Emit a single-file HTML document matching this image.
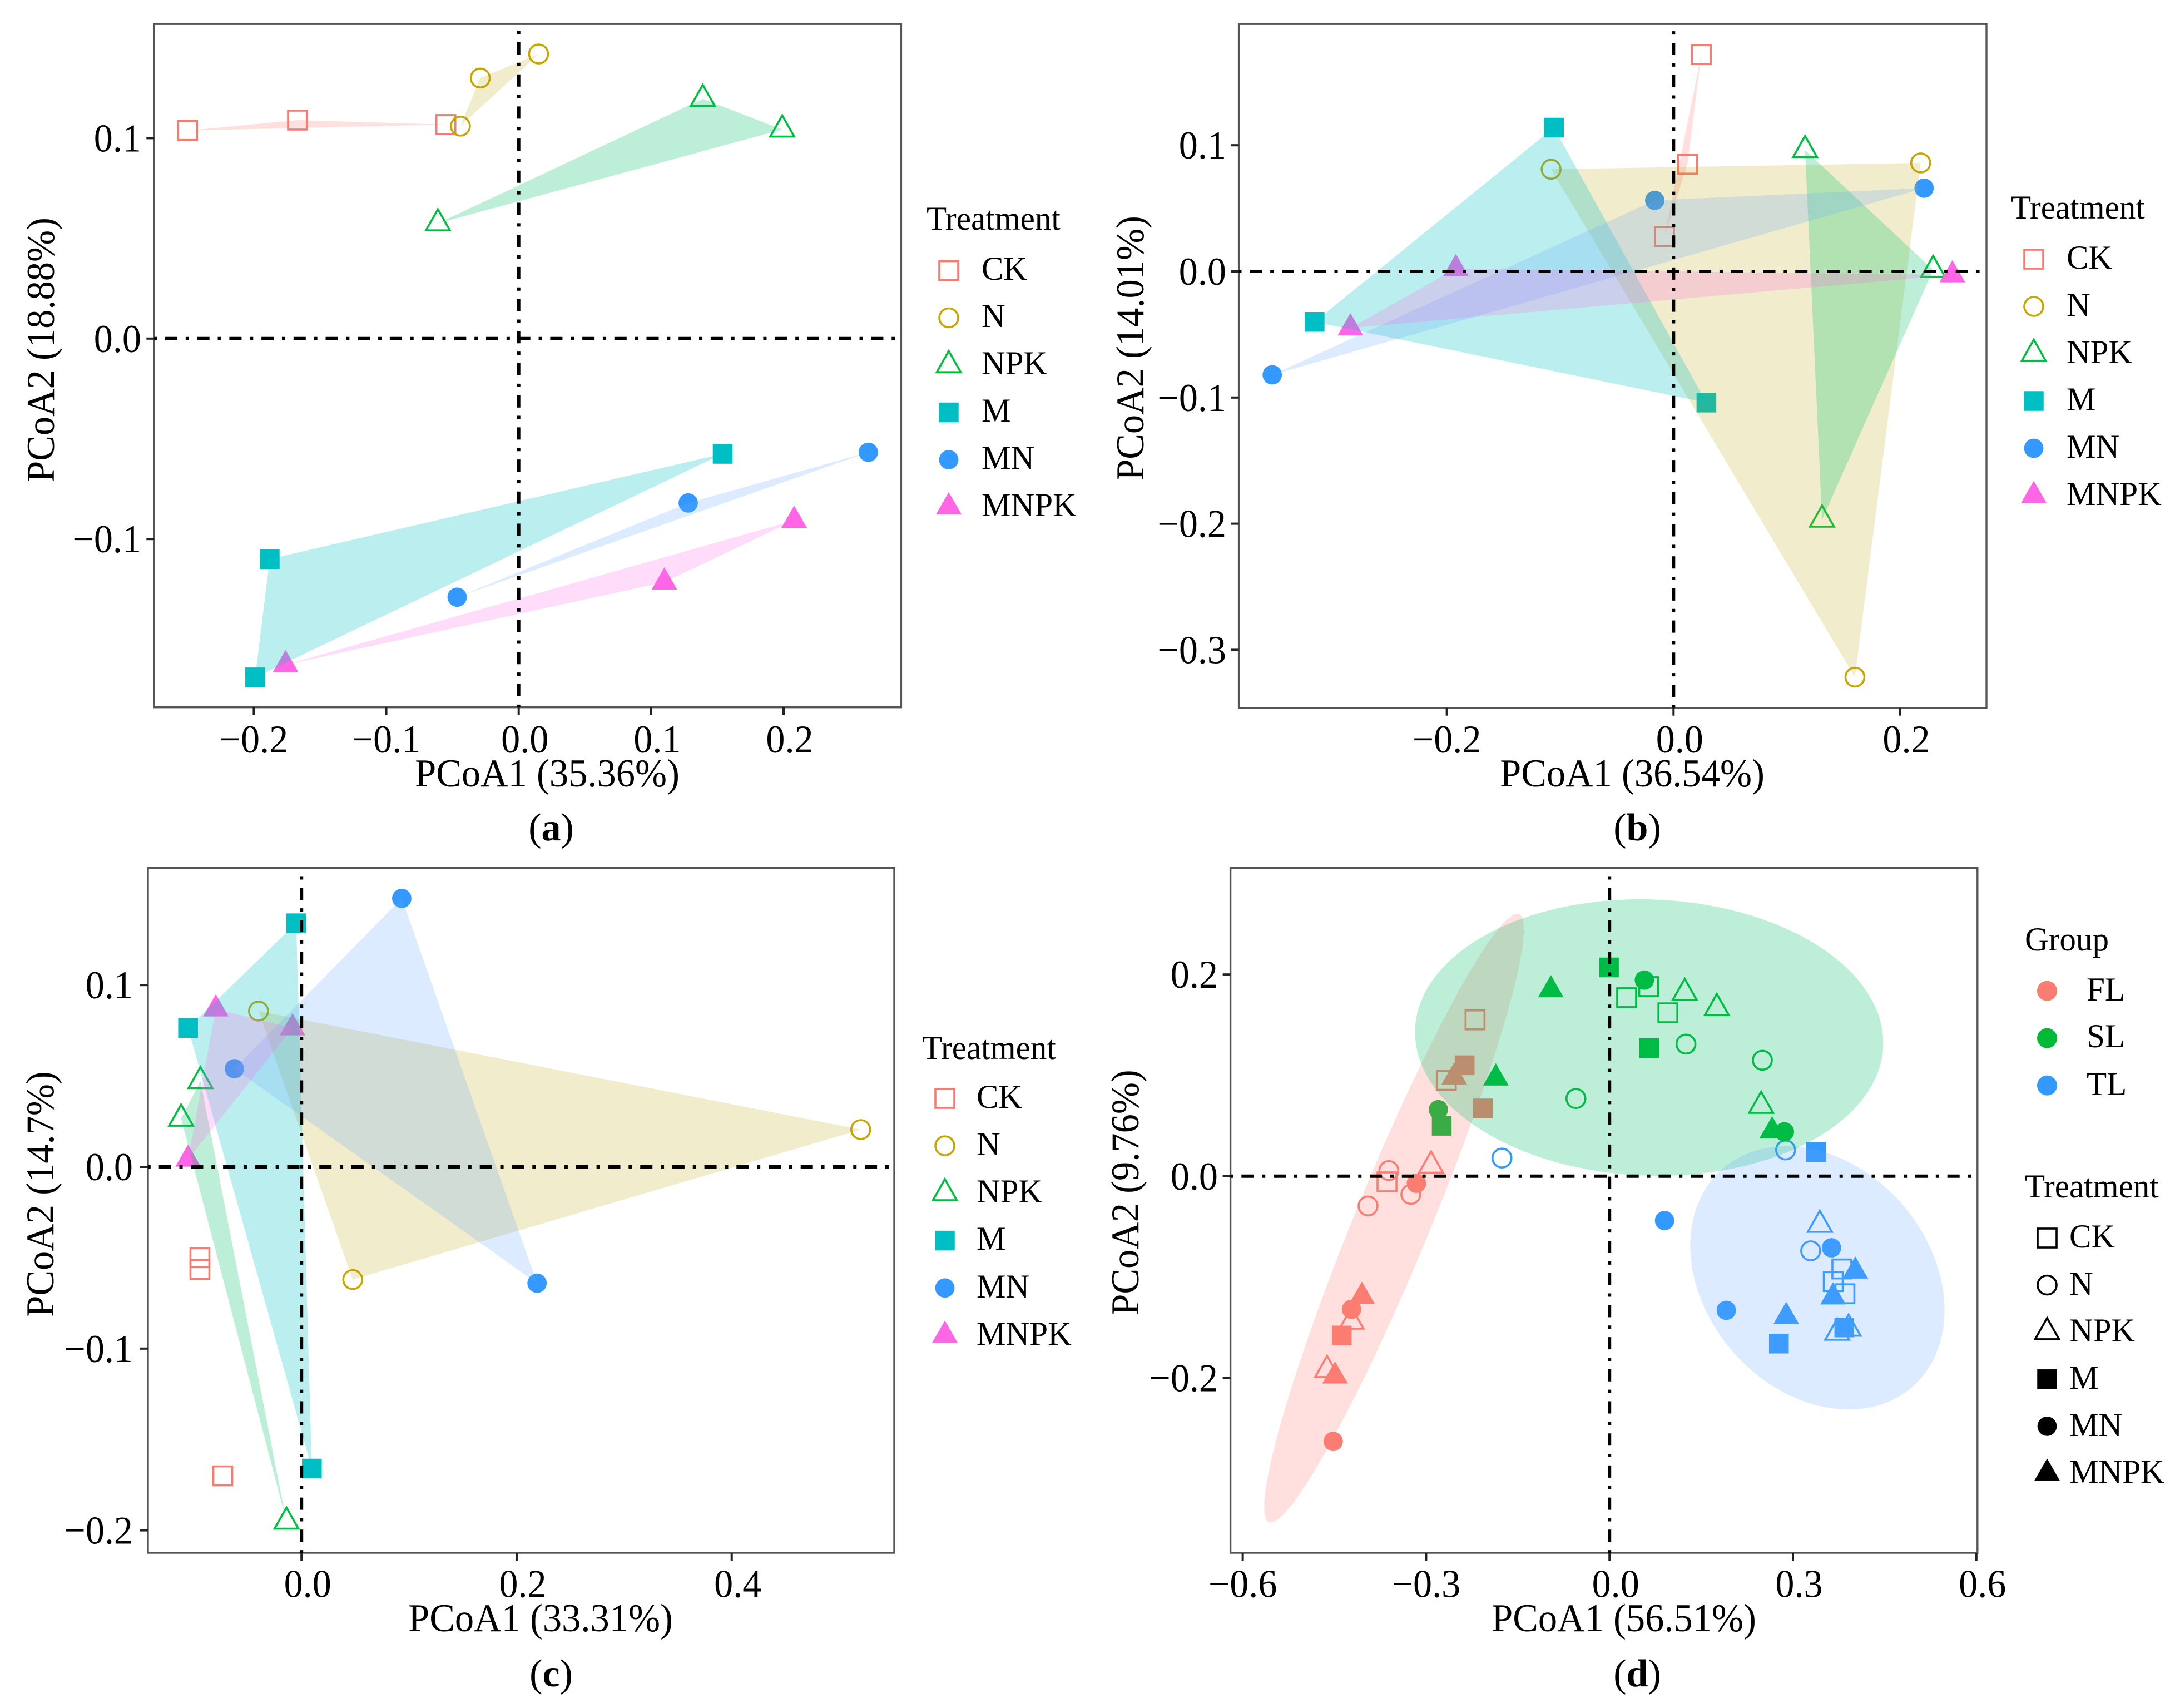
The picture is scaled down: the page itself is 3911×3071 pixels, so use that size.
<!DOCTYPE html>
<html lang="en">
<head>
<meta charset="utf-8">
<title>PCoA panels</title>
<style>
html,body{margin:0;padding:0;background:#fff}
svg{display:block}
text{font-family:"Liberation Serif",serif;fill:#000}
.ttl{font-size:71px}
.leg{font-size:60px}
.cap{font-size:70px}
.cap tspan{font-weight:bold}
</style>
</head>
<body>
<svg id="figure" xmlns="http://www.w3.org/2000/svg" width="3911" height="3071" viewBox="0 0 3911 3071">
<rect width="3911" height="3071" fill="#fff"/>

<g id="panel-a"></g>
<g>
<text class="ttl" x="984" y="1414" text-anchor="middle">PCoA1 (35.36%)</text>
<text class="ttl" transform="translate(97 629) rotate(-90)" text-anchor="middle">PCoA2 (18.88%)</text>
<text class="cap" x="991" y="1511" text-anchor="middle">(<tspan>a</tspan>)</text>
<text class="leg" x="1666" y="413">Treatment</text>
<text class="leg" x="1765" y="503">CK</text>
<text class="leg" x="1765" y="588">N</text>
<text class="leg" x="1765" y="673">NPK</text>
<text class="leg" x="1765" y="758">M</text>
<text class="leg" x="1765" y="843">MN</text>
<text class="leg" x="1765" y="928">MNPK</text>
</g>

<g id="panel-b"></g>
<g>
<text class="ttl" x="2935" y="1414" text-anchor="middle">PCoA1 (36.54%)</text>
<text class="ttl" transform="translate(2056 626) rotate(-90)" text-anchor="middle">PCoA2 (14.01%)</text>
<text class="cap" x="2944" y="1511" text-anchor="middle">(<tspan>b</tspan>)</text>
<text class="leg" x="3616" y="393">Treatment</text>
<text class="leg" x="3716" y="483">CK</text>
<text class="leg" x="3716" y="568">N</text>
<text class="leg" x="3716" y="653">NPK</text>
<text class="leg" x="3716" y="738">M</text>
<text class="leg" x="3716" y="823">MN</text>
<text class="leg" x="3716" y="908">MNPK</text>
</g>

<g id="panel-c"></g>
<g>
<text class="ttl" x="972" y="2933" text-anchor="middle">PCoA1 (33.31%)</text>
<text class="ttl" transform="translate(96 2147) rotate(-90)" text-anchor="middle">PCoA2 (14.7%)</text>
<text class="cap" x="991" y="3032" text-anchor="middle">(<tspan>c</tspan>)</text>
<text class="leg" x="1658" y="1904">Treatment</text>
<text class="leg" x="1756" y="1992">CK</text>
<text class="leg" x="1756" y="2077">N</text>
<text class="leg" x="1756" y="2162">NPK</text>
<text class="leg" x="1756" y="2247">M</text>
<text class="leg" x="1756" y="2333">MN</text>
<text class="leg" x="1756" y="2418">MNPK</text>
</g>

<g id="panel-d"></g>
<g>
<text class="ttl" x="2920" y="2933" text-anchor="middle">PCoA1 (56.51%)</text>
<text class="ttl" transform="translate(2047 2144) rotate(-90)" text-anchor="middle">PCoA2 (9.76%)</text>
<text class="cap" x="2944" y="3032" text-anchor="middle">(<tspan>d</tspan>)</text>
<text class="leg" x="3641" y="1709">Group</text>
<text class="leg" x="3752" y="1799">FL</text>
<text class="leg" x="3752" y="1883">SL</text>
<text class="leg" x="3752" y="1969">TL</text>
<text class="leg" x="3641" y="2153">Treatment</text>
<text class="leg" x="3721" y="2243">CK</text>
<text class="leg" x="3721" y="2328">N</text>
<text class="leg" x="3721" y="2412">NPK</text>
<text class="leg" x="3721" y="2497">M</text>
<text class="leg" x="3721" y="2582">MN</text>
<text class="leg" x="3721" y="2666">MNPK</text>
</g>
</svg>

<script>
// ---- Panel (a) data: [PCoA1, PCoA2]
const aCK   = [[-0.250, 0.1038], [-0.167, 0.109], [-0.055, 0.1068]];
const aN    = [[-0.044, 0.106], [-0.029, 0.130], [0.015, 0.142]];
const aNPK  = [[-0.061, 0.0575], [0.139, 0.1196], [0.199, 0.1043]];
const aM    = [[-0.199, -0.169], [-0.188, -0.110], [0.154, -0.0575]];
const aMN   = [[-0.0465, -0.129], [0.128, -0.082], [0.264, -0.0567]];
const aMNPK = [[-0.176, -0.1627], [0.110, -0.1215], [0.208, -0.0907]];
const aXTicks = [-0.2, -0.1, 0, 0.1, 0.2];
const aYTicks = [0.1, 0, -0.1];

// ---- Panel (b) data
const bCK   = [[0.0245, 0.172], [0.0123, 0.085], [-0.008, 0.0277]];
const bN    = [[-0.108, 0.081], [0.218, 0.086], [0.160, -0.3216]];
const bNPK  = [[0.116, 0.0962], [0.229, 0.0012], [0.131, -0.1968]];
const bM    = [[-0.1055, 0.114], [-0.3166, -0.040], [0.029, -0.104]];
const bMN   = [[-0.0166, 0.0563], [-0.354, -0.082], [0.221, 0.066]];
const bMNPK = [[-0.192, 0.0022], [-0.285, -0.0448], [0.246, -0.0028]];
const bXTicks = [-0.2, 0, 0.2];
const bYTicks = [0.1, 0, -0.1, -0.2, -0.3];

// ---- Panel (c) data
const cCK   = [[-0.0945, -0.050], [-0.0945, -0.0565], [-0.0733, -0.170]];
const cN    = [[-0.040, 0.0857], [0.520, 0.0205], [0.0476, -0.062]];
const cNPK  = [[-0.094, 0.0472], [-0.112, 0.0265], [-0.014, -0.1952]];
const cM    = [[-0.005, 0.134], [-0.1055, 0.0764], [0.0096, -0.166]];
const cMN   = [[0.0932, 0.1477], [-0.0624, 0.054], [0.219, -0.064]];
const cMNPK = [[-0.0797, 0.0868], [-0.0084, 0.0764], [-0.1055, 0.0042]];
const cXTicks = [0, 0.2, 0.4];
const cYTicks = [0.1, 0, -0.1, -0.2];

// ---- Panel (d) data, by group and treatment
const dFLCK   = [[-0.220, 0.155], [-0.267, 0.095], [-0.364, -0.0056]];
const dFLN    = [[-0.361, 0.0056], [-0.395, -0.0295], [-0.325, -0.018]];
const dFLNPK  = [[-0.292, 0.0105], [-0.422, -0.1442], [-0.462, -0.1922]];
const dFLM    = [[-0.237, 0.110], [-0.207, 0.0672], [-0.438, -0.158]];
const dFLMN   = [[-0.316, -0.007], [-0.422, -0.132], [-0.452, -0.263]];
const dFLMNPK = [[-0.254, 0.0983], [-0.405, -0.1192], [-0.449, -0.1982]];
const dSLCK   = [[0.028, 0.177], [0.064, 0.188], [0.0955, 0.162]];
const dSLN    = [[-0.055, 0.077], [0.125, 0.131], [0.250, 0.115]];
const dSLNPK  = [[0.123, 0.1818], [0.1755, 0.1668], [0.248, 0.0698]];
const dSLM    = [[-0.001, 0.207], [0.065, 0.127], [-0.2745, 0.050]];
const dSLMN   = [[0.057, 0.1945], [-0.280, 0.066], [0.286, 0.044]];
const dSLMNPK = [[-0.096, 0.1848], [-0.186, 0.0973], [0.266, 0.0448]];
const dTLCK   = [[0.380, -0.092], [0.366, -0.1045], [0.385, -0.1166]];
const dTLN    = [[-0.176, 0.018], [0.288, 0.026], [0.329, -0.074]];
const dTLNPK  = [[0.344, -0.0482], [0.3725, -0.1552], [0.391, -0.1512]];
const dTLM    = [[0.338, 0.024], [0.277, -0.166], [0.384, -0.150]];
const dTLMN   = [[0.090, -0.044], [0.191, -0.133], [0.363, -0.071]];
const dTLMNPK = [[0.402, -0.0942], [0.3656, -0.1198], [0.289, -0.1392]];
// ellipses in data units: centre, then the two conjugate semi-axes
const dFLEllipse = [[-0.3525, -0.0415], [0.2045, 0.3015], [0.0573, -0.0142]];
const dSLEllipse = [[0.0648, 0.1375], [0.383, -0.0053], [0, 0.137]];
const dTLEllipse = [[0.340, -0.1008], [0.208, -0.032], [0, 0.1266]];
const dXTicks = [-0.6, -0.3, 0, 0.3, 0.6];
const dYTicks = [0.2, 0, -0.2];

const TREATMENTS = ['CK', 'N', 'NPK', 'M', 'MN', 'MNPK'];
const COLOR = {CK:'#FA7A70', N:'#C9A500', NPK:'#00BF40', M:'#00BFC4', MN:'#3399FF', MNPK:'#FF66E6'};
const HULL  = {CK:['#FF7A70',.23], N:['#B79F00',.2], NPK:['#00C36A',.26], M:['#00BFC4',.27], MN:['#66AAFF',.23], MNPK:['#FF66E6',.23]};
const GROUPCOLOR = {FL:'#FA7D72', SL:'#00BA38', TL:'#3399FF'};
const GROUPFILL  = {FL:['#FF7A70',.23], SL:['#00C36A',.26], TL:['#66AAFF',.23]};

const NS = 'http://www.w3.org/2000/svg';
function node(parent, tag, attrs, name) {
  const el = document.createElementNS(NS, tag);
  for (const k in attrs) el.setAttribute(k, attrs[k]);
  
  
  parent.appendChild(el);
  return el;
}
const linear = (origin, perUnit) => v => origin + perUnit * v;
const fmt = v => (v < 0 ? '\u2212' : '') + Math.abs(v).toFixed(1);

function mark(parent, treatment, px, py, color, name) {
  const filled = treatment === 'M' || treatment === 'MN' || treatment === 'MNPK';
  const paint = filled ? {fill: color} : {fill: 'none', stroke: color, 'stroke-width': 3.6};
  if (treatment === 'CK' || treatment === 'M') {
    const s = filled ? 35.5 : 34;
    return node(parent, 'rect', Object.assign({x: px - s / 2, y: py - s / 2, width: s, height: s}, paint), name);
  }
  if (treatment === 'N' || treatment === 'MN') {
    const r = filled ? 17.4 : 17;
    return node(parent, 'circle', Object.assign({cx: px, cy: py, r: r}, paint), name);
  }
  const w = filled ? 46 : 43, h = filled ? 40 : 38;
  const pts = [[px, py - h * 2 / 3], [px - w / 2, py + h / 3], [px + w / 2, py + h / 3]].map(p => p.join(',')).join(' ');
  return node(parent, 'polygon', Object.assign({points: pts}, paint), name);
}

function axes(panel, id, f, x, y, xTicks, yTicks) {
  node(panel, 'rect', {x: f.l, y: f.t, width: f.r - f.l, height: f.b - f.t, fill: '#fff', stroke: '#555', 'stroke-width': 3.4}, 'plot-frame-' + id);
  xTicks.forEach(v => {
    node(panel, 'line', {x1: x(v), x2: x(v), y1: f.b, y2: f.b + 14, stroke: '#222', 'stroke-width': 4}, 'x-tick-' + id);
    const t = node(panel, 'text', {x: x(v) + (v < 0 ? 0 : 11), y: f.xLab, 'text-anchor': 'middle', 'font-size': 71, class: 'tick'}, 'x-tick-label-' + id);
    t.textContent = fmt(v);
  });
  yTicks.forEach(v => {
    node(panel, 'line', {x1: f.l - 14, x2: f.l, y1: y(v), y2: y(v), stroke: '#222', 'stroke-width': 4}, 'y-tick-' + id);
    const t = node(panel, 'text', {x: f.yLab, y: y(v) + 24, 'text-anchor': 'end', 'font-size': 71, class: 'tick'}, 'y-tick-label-' + id);
    t.textContent = fmt(v);
  });
}

function refLines(panel, id, f, x, y) {
  node(panel, 'line', {x1: f.l, x2: f.r - 4, y1: y(0), y2: y(0), stroke: '#000', 'stroke-width': 6, 'stroke-dasharray': '22 14.85 6 14.85', 'stroke-dashoffset': 38}, 'zero-line-horizontal-' + id);
  node(panel, 'line', {x1: x(0), x2: x(0), y1: f.b, y2: f.t + 12, stroke: '#000', 'stroke-width': 6, 'stroke-dasharray': '22 14.85 6 14.85', 'stroke-dashoffset': 38}, 'zero-line-vertical-' + id);
}

function hullPanel(id, f, x, y, xTicks, yTicks, series, hulls, legend) {
  const panel = document.getElementById('panel-' + id);
  axes(panel, id, f, x, y, xTicks, yTicks);
  TREATMENTS.forEach((t, i) => {
    series[i].forEach(p => mark(panel, t, x(p[0]), y(p[1]), COLOR[t], 'point-' + id + '-' + t.toLowerCase()));
  });
  TREATMENTS.forEach((t, i) => {
    if (!hulls.includes(t)) return;
    const pts = series[i].map(p => x(p[0]) + ',' + y(p[1])).join(' ');
    node(panel, 'polygon', {points: pts, fill: HULL[t][0], 'fill-opacity': HULL[t][1]}, 'hull-' + id + '-' + t.toLowerCase());
  });
  refLines(panel, id, f, x, y);
  TREATMENTS.forEach((t, i) => {
    mark(panel, t, legend.x, legend.y + legend.step * i, COLOR[t], 'legend-key-' + id + '-' + t.toLowerCase());
  });
}

hullPanel('a', {l: 277.3, r: 1620.4, t: 43.2, b: 1271.7, xLab: 1353, yLab: 254},
  linear(932.7, 2381.5), linear(608.8, -3604), aXTicks, aYTicks,
  [aCK, aN, aNPK, aM, aMN, aMNPK], TREATMENTS, {x: 1706, y: 486.5, step: 85});

hullPanel('b', {l: 2227.6, r: 3572, t: 43.2, b: 1272.7, xLab: 1353, yLab: 2205},
  linear(3009.3, 2038.5), linear(488, -2268), bXTicks, bYTicks,
  [bCK, bN, bNPK, bM, bMN, bMNPK], TREATMENTS, {x: 3657, y: 466, step: 85});

hullPanel('c', {l: 266, r: 1608, t: 1560.5, b: 2792, xLab: 2871.5, yLab: 239},
  linear(542.2, 1933.8), linear(2098, -3268), cXTicks, cYTicks,
  [cCK, cN, cNPK, cM, cMN, cMNPK], ['N', 'NPK', 'M', 'MN', 'MNPK'], {x: 1699, y: 1975, step: 85.2});

(function () {
  const id = 'd';
  const f = {l: 2212.6, r: 3555.8, t: 1560.5, b: 2792, xLab: 2871.5, yLab: 2190};
  const x = linear(2894.2, 1099.3), y = linear(2114.8, -1813);
  const panel = document.getElementById('panel-d');
  axes(panel, id, f, x, y, dXTicks, dYTicks);
  const groups = {
    FL: [dFLCK, dFLN, dFLNPK, dFLM, dFLMN, dFLMNPK],
    SL: [dSLCK, dSLN, dSLNPK, dSLM, dSLMN, dSLMNPK],
    TL: [dTLCK, dTLN, dTLNPK, dTLM, dTLMN, dTLMNPK]
  };
  const ellipses = {FL: dFLEllipse, SL: dSLEllipse, TL: dTLEllipse};
  TREATMENTS.forEach((t, i) => {
    Object.keys(groups).forEach(g => {
      groups[g][i].forEach(p => mark(panel, t, x(p[0]), y(p[1]), GROUPCOLOR[g], 'point-d-' + g.toLowerCase() + '-' + t.toLowerCase()));
    });
  });
  Object.keys(ellipses).forEach(g => {
    const [c, a, b] = ellipses[g];
    const pts = [];
    for (let k = 0; k < 120; k++) {
      const th = k / 120 * 2 * Math.PI;
      pts.push(x(c[0] + a[0] * Math.cos(th) + b[0] * Math.sin(th)) + ',' + y(c[1] + a[1] * Math.cos(th) + b[1] * Math.sin(th)));
    }
    node(panel, 'polygon', {points: pts.join(' '), fill: GROUPFILL[g][0], 'fill-opacity': GROUPFILL[g][1]}, 'ellipse-' + g.toLowerCase());
  });
  refLines(panel, id, f, x, y);
  ['FL', 'SL', 'TL'].forEach((g, i) => {
    node(panel, 'circle', {cx: 3681, cy: 1781.6 + 85 * i, r: 18, fill: GROUPCOLOR[g]}, 'legend-key-group-' + g.toLowerCase());
  });
  TREATMENTS.forEach((t, i) => {
    mark(panel, t, 3681, 2226 + 84.6 * i, '#000', 'legend-key-d-' + t.toLowerCase());
  });
})();

// The reference glyphs are slightly condensed horizontally
function condense(selector, factor) {
  document.querySelectorAll(selector).forEach(t => {
    t.setAttribute('textLength', (t.getComputedTextLength() * factor).toFixed(1));
    t.setAttribute('lengthAdjust', 'spacingAndGlyphs');
  });
}
condense('text.ttl', 0.965);
condense('text.tick', 0.96);
condense('text.leg', 0.985);
</script>
</body>
</html>
